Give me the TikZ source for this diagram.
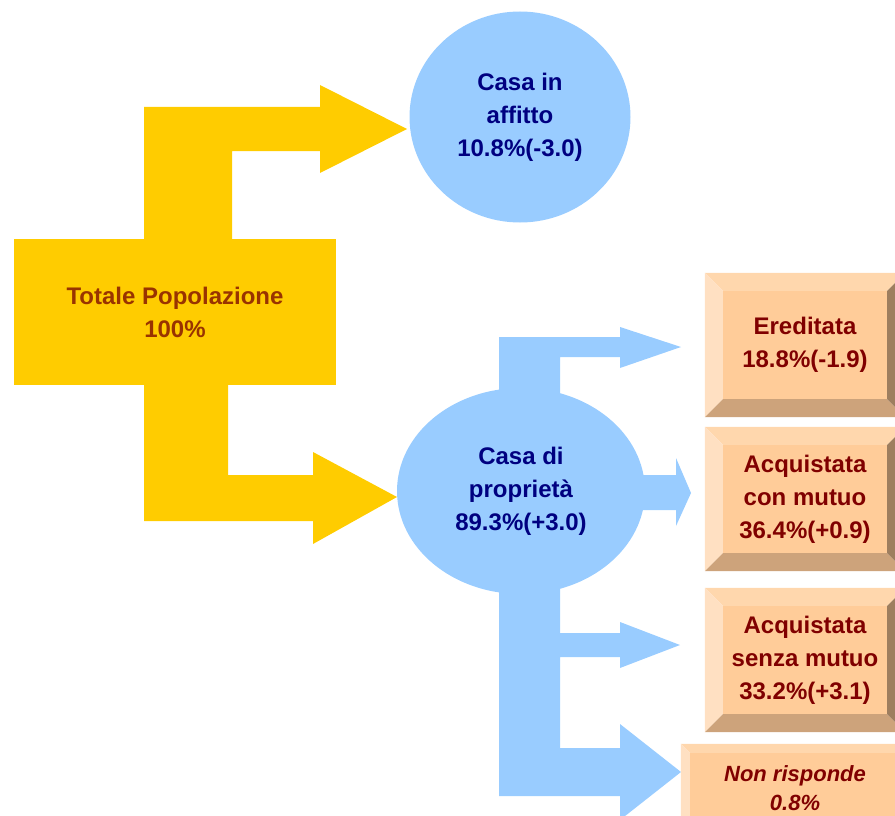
\documentclass[tikz,border=0pt]{standalone}
\usepackage{fontspec}
\setmainfont{Liberation Sans}
\usetikzlibrary{shapes,calc,positioning}

\definecolor{popyellow}{HTML}{FFCC00}
\definecolor{popbrown}{HTML}{993300}
\definecolor{casablue}{HTML}{99CCFF}
\definecolor{casanavy}{HTML}{000080}
\definecolor{facepeach}{HTML}{FFCC99}
\definecolor{facered}{HTML}{800000}
\definecolor{bvtopcol}{HTML}{FFD7AD}
\definecolor{bvleftcol}{HTML}{FFE0C2}
\definecolor{bvbotcol}{HTML}{CDA37B}
\definecolor{bvrightcol}{HTML}{9E7E5F}

% bevel round a face node: #1 node, #2 width
\newcommand{\bevel}[2]{%
  \fill[bvtopcol] (#1.north west) -- ++(-#2,-#2) -- ($(#1.north east)+(#2,-#2)$) -- (#1.north east) -- cycle;
  \fill[bvleftcol] (#1.north west) -- ++(-#2,-#2) -- ($(#1.south west)+(-#2,#2)$) -- (#1.south west) -- cycle;
  \fill[bvbotcol] (#1.south west) -- ++(-#2,#2) -- ($(#1.south east)+(#2,#2)$) -- (#1.south east) -- cycle;
  \fill[bvrightcol] (#1.north east) -- ++(#2,-#2) -- ($(#1.south east)+(#2,#2)$) -- (#1.south east) -- cycle;
}

\begin{document}
\begin{tikzpicture}[x=1pt,y=-1pt,
  lbl/.style={font=\fontsize{24}{33}\selectfont\bfseries, align=center, inner sep=0pt},
  casa/.style={ellipse, fill=casablue, lbl, text=casanavy},
  face/.style={rectangle, fill=facepeach, lbl, text=facered, minimum width=164pt, minimum height=108pt}]
  \useasboundingbox (0,0) rectangle (895,816);
  \clip (0,0) rectangle (895,816);

  % yellow arrows
  \fill[popyellow] (144,250) -- (144,107) -- (320,107) -- (320,85) -- (407,129) -- (320,173)
        -- (320,151) -- (232,151) -- (232,250) -- cycle;
  \fill[popyellow] (144,370) -- (144,521) -- (313,521) -- (313,544) -- (397,497) -- (313,452)
        -- (313,475) -- (228,475) -- (228,370) -- cycle;
  \node[lbl, rectangle, fill=popyellow, text=popbrown, minimum width=322pt, minimum height=146pt]
        (pop) at (175,312) {Totale Popolazione\\100\%};

  % blue arrows
  \fill[casablue] (499,420) -- (499,337) -- (620,337) -- (620,327) -- (681,347) -- (620,368)
        -- (620,357) -- (560,357) -- (560,420) -- cycle;
  \fill[casablue] (600,475) -- (676,475) -- (676,458) -- (691,493) -- (676,526) -- (676,510)
        -- (600,510) -- cycle;
  \fill[casablue] (499,560) -- (499,796) -- (620,796) -- (620,820) -- (681,772) -- (620,724)
        -- (620,748) -- (560,748) -- (560,657) -- (620,657) -- (620,668) -- (680,645)
        -- (620,622) -- (620,633) -- (560,633) -- (560,560) -- cycle;

  \node[casa, minimum width=221pt, minimum height=211pt] (affitto) at (520,117) {Casa in\\affitto\\10.8\%(-3.0)};
  \node[casa, minimum width=248pt, minimum height=206pt] (proprieta) at (521,491) {Casa di\\propriet\`a\\89.3\%(+3.0)};

  % boxes
  \node[face] (ereditata) at (805,345) {Ereditata\\18.8\%(-1.9)};
  \bevel{ereditata}{18}
  \node[face] (conmutuo) at (805,499) {Acquistata\\con mutuo\\36.4\%(+0.9)};
  \bevel{conmutuo}{18}
  \node[face] (senzamutuo) at (805,660) {Acquistata\\senza mutuo\\33.2\%(+3.1)};
  \bevel{senzamutuo}{18}
  \node[face, minimum width=210pt, minimum height=70pt, font=\fontsize{22}{29}\selectfont\bfseries\itshape]
        (nonrisp) at (795,788) {Non risponde\\0.8\%};
  \bevel{nonrisp}{9}
\end{tikzpicture}
\end{document}
